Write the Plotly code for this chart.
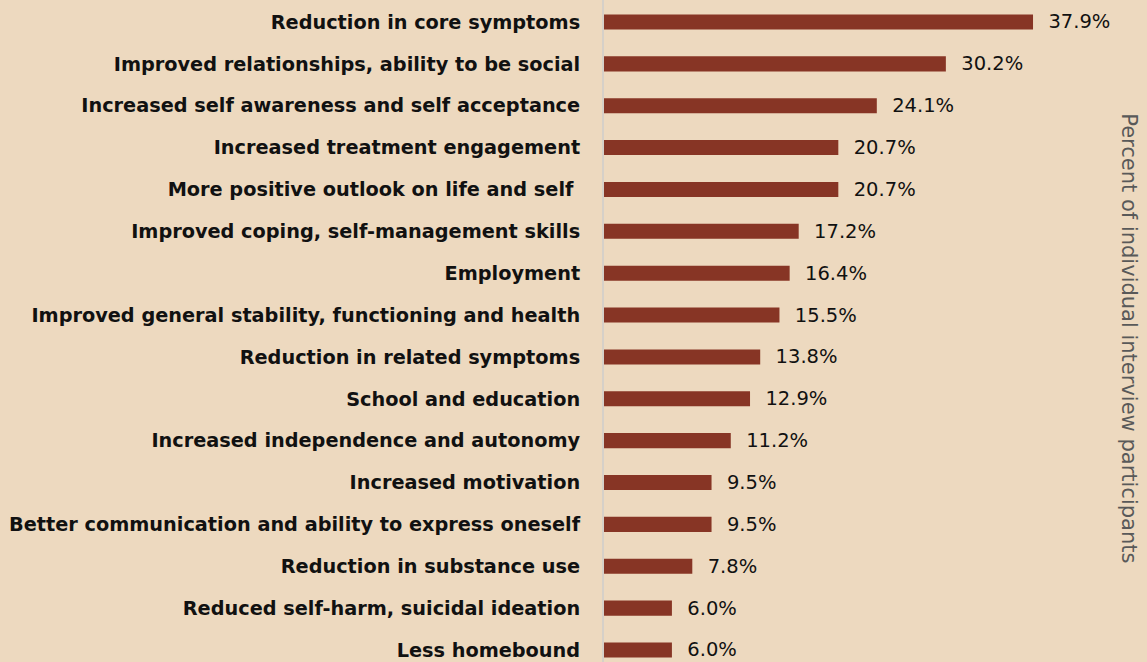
import plotly.graph_objects as go

categories = [
    "Reduction in core symptoms",
    "Improved relationships, ability to be social",
    "Increased self awareness and self acceptance",
    "Increased treatment engagement",
    "More positive outlook on life and self ",
    "Improved coping, self-management skills",
    "Employment",
    "Improved general stability, functioning and health",
    "Reduction in related symptoms",
    "School and education",
    "Increased independence and autonomy",
    "Increased motivation",
    "Better communication and ability to express oneself",
    "Reduction in substance use",
    "Reduced self-harm, suicidal ideation",
    "Less homebound",
]
values = [37.9, 30.2, 24.1, 20.7, 20.7, 17.2, 16.4, 15.5, 13.8, 12.9, 11.2, 9.5, 9.5, 7.8, 6.0, 6.0]
value_labels = ["%.1f%%" % v for v in values]
axis_title = "Percent of individual interview participants"

BG = "#EDD9BF"
BAR = "#873525"
FONT = "'DejaVu Sans', sans-serif"

fig = go.Figure(go.Bar(
    x=values,
    y=categories,
    orientation="h",
    width=0.36,
    marker=dict(color=BAR, line=dict(width=0)),
    text=["\u00a0\u00a0" + t for t in value_labels],
    textposition="outside",
    constraintext="none",
    cliponaxis=False,
    textfont=dict(family=FONT, size=19.5, color="#111111"),
))

fig.update_layout(
    width=1147,
    height=662,
    paper_bgcolor=BG,
    plot_bgcolor=BG,
    margin=dict(l=604, r=37, t=0, b=0),
    showlegend=False,
    font=dict(family=FONT),
    uniformtext=dict(mode=False),
    xaxis=dict(
        range=[0, 44.7],
        showgrid=False,
        zeroline=False,
        showticklabels=False,
        showline=False,
        ticks="",
    ),
    yaxis=dict(
        type="category",
        categoryorder="array",
        categoryarray=categories,
        range=[15.287, -0.525],
        showgrid=False,
        zeroline=False,
        showline=True,
        linecolor="#D6D0C8",
        linewidth=2,
        ticks="",
        ticklabelstandoff=18,
        tickfont=dict(family=FONT, size=19.3, color="#111111", weight="bold"),
        automargin=False,
    ),
    annotations=[dict(
        text=axis_title,
        xref="paper", yref="paper",
        x=1.0, y=0.489,
        xanchor="center", yanchor="middle",
        xshift=19,
        textangle=90,
        showarrow=False,
        font=dict(family=FONT, size=21, color="#595959"),
    )],
)

fig.write_html("out.html")
